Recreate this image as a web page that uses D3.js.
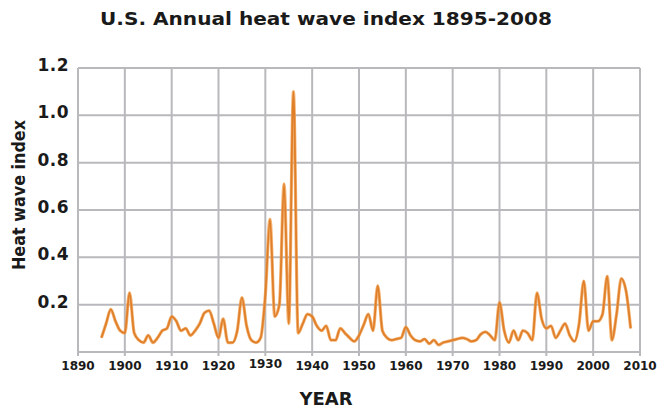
<!DOCTYPE html>
<html>
<head>
<meta charset="utf-8">
<script src="https://cdn.jsdelivr.net/npm/d3@7/dist/d3.min.js"></script>
<style>
  html, body { margin: 0; padding: 0; background: #fff; }
  svg { display: block; }
  text { font-family: "DejaVu Sans", sans-serif; fill: #1a1a1a; }
</style>
</head>
<body>
<svg id="chart" width="658" height="409"></svg>
<script>
const chartTitle = "U.S. Annual heat wave index 1895-2008";
const xTitle = "YEAR";
const yTitle = "Heat wave index";
const firstYear = 1895;
const heatIndex = [
  0.06, 0.12, 0.18, 0.13, 0.09,                               // 1895-1899
  0.08, 0.25, 0.08, 0.05, 0.04, 0.07, 0.04, 0.06, 0.09, 0.10, // 1900-1909
  0.15, 0.13, 0.09, 0.10, 0.07, 0.09, 0.12, 0.165, 0.175, 0.12, // 1910-1919
  0.06, 0.14, 0.04, 0.04, 0.09, 0.23, 0.11, 0.05, 0.04, 0.06, // 1920-1929
  0.24, 0.56, 0.15, 0.20, 0.71, 0.12, 1.10, 0.08, 0.12, 0.16, // 1930-1939
  0.15, 0.11, 0.09, 0.11, 0.05, 0.05, 0.10, 0.08, 0.06, 0.045, // 1940-1949
  0.07, 0.115, 0.16, 0.09, 0.28, 0.09, 0.06, 0.05, 0.055, 0.06, // 1950-1959
  0.105, 0.07, 0.05, 0.045, 0.055, 0.035, 0.05, 0.03, 0.04, 0.045, // 1960-1969
  0.05, 0.055, 0.06, 0.055, 0.045, 0.05, 0.075, 0.085, 0.07, 0.05, // 1970-1979
  0.21, 0.09, 0.04, 0.09, 0.05, 0.09, 0.08, 0.05, 0.25, 0.14, // 1980-1989
  0.10, 0.11, 0.06, 0.09, 0.12, 0.07, 0.045, 0.12, 0.30, 0.09, // 1990-1999
  0.13, 0.13, 0.16, 0.32, 0.05, 0.16, 0.31, 0.26, 0.10        // 2000-2008
];
const xTickValues = [1890, 1900, 1910, 1920, 1930, 1940, 1950, 1960, 1970, 1980, 1990, 2000, 2010];
const yTickValues = [0.2, 0.4, 0.6, 0.8, 1.0, 1.2];
const yTickLabels = ["0.2", "0.4", "0.6", "0.8", "1.0", "1.2"];

const years = heatIndex.map((_, i) => firstYear + i);
const data = years.map((yr, i) => ({ year: yr, value: heatIndex[i] }));

const svg = d3.select("#chart");
const plotLeft = 78, plotRight = 640, plotTop = 68, plotBottom = 352;

const x = d3.scaleLinear().domain([1890, 2010]).range([plotLeft, plotRight]);
const y = d3.scaleLinear().domain([0, 1.2]).range([plotBottom, plotTop]);

const gridColor = "#b9b9bd";

// vertical grid lines (with small tick stubs below)
svg.append("g").selectAll("line").data(xTickValues).join("line")
  .attr("x1", d => x(d)).attr("x2", d => x(d))
  .attr("y1", plotTop).attr("y2", plotBottom + 4)
  .attr("stroke", gridColor).attr("stroke-width", 2);

// horizontal grid lines
svg.append("g").selectAll("line").data([0].concat(yTickValues)).join("line")
  .attr("x1", plotLeft).attr("x2", plotRight)
  .attr("y1", d => y(d)).attr("y2", d => y(d))
  .attr("stroke", gridColor).attr("stroke-width", 2);

// y tick labels
svg.append("g").selectAll("text").data(yTickValues).join("text")
  .attr("x", 69).attr("y", d => y(d) + 3)
  .attr("text-anchor", "end")
  .attr("font-size", 17).attr("font-weight", "bold")
  .attr("letter-spacing", 0.5)
  .text((d, i) => yTickLabels[i]);

// x tick labels
svg.append("g").selectAll("text").data(xTickValues).join("text")
  .attr("x", d => x(d)).attr("y", d => d === 1930 ? 368 : 370)
  .attr("text-anchor", "middle")
  .attr("font-size", 12).attr("font-weight", "bold")
  .text(d => d);

// line
const line = d3.line()
  .x(d => x(d.year))
  .y(d => y(d.value))
  .curve(d3.curveMonotoneX);

svg.append("path").datum(data)
  .attr("d", line)
  .attr("fill", "none")
  .attr("stroke", "#f0a050")
  .attr("stroke-width", 3.2)
  .attr("stroke-linejoin", "round")
  .attr("opacity", 0.8);
svg.append("path").datum(data)
  .attr("d", line)
  .attr("fill", "none")
  .attr("stroke", "#e07f2a")
  .attr("stroke-width", 1.8)
  .attr("stroke-linejoin", "round");

// title
svg.append("text")
  .attr("x", 326).attr("y", 25)
  .attr("text-anchor", "middle")
  .attr("font-size", 18).attr("font-weight", "bold")
  .attr("textLength", 452).attr("lengthAdjust", "spacingAndGlyphs")
  .text(chartTitle);

// x axis title
svg.append("text")
  .attr("x", 326).attr("y", 405)
  .attr("text-anchor", "middle")
  .attr("font-size", 18).attr("font-weight", "bold")
  .text(xTitle);

// y axis title
svg.append("text")
  .attr("transform", "translate(25,195) rotate(-90)")
  .attr("text-anchor", "middle")
  .attr("font-size", 17).attr("font-weight", "bold")
  .attr("textLength", 150).attr("lengthAdjust", "spacingAndGlyphs")
  .text(yTitle);
</script>
</body>
</html>
